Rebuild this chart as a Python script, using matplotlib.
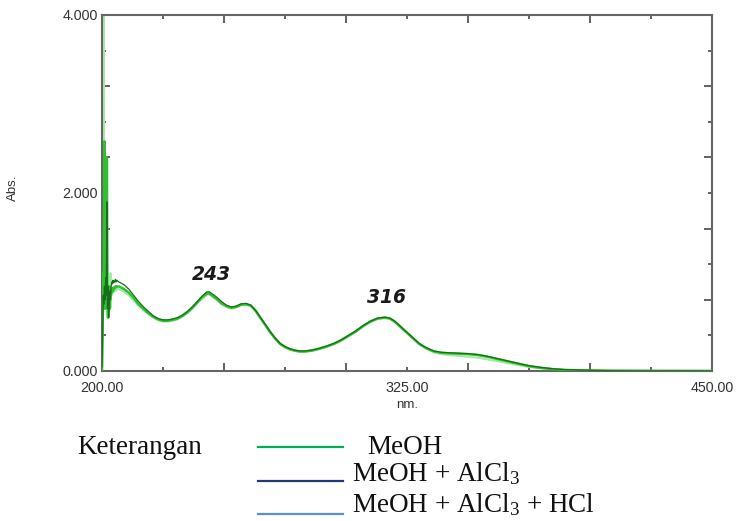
import matplotlib
matplotlib.use("Agg")
import matplotlib.pyplot as plt
from matplotlib.ticker import FixedLocator, NullFormatter, FuncFormatter

plt.rcParams["mathtext.fontset"] = "custom"
plt.rcParams["mathtext.rm"] = "Liberation Serif"
plt.rcParams["mathtext.it"] = "Liberation Serif:italic"

# ---- wavelength grid (nm) ----
wl_noise = [200.0, 200.25, 200.5, 200.75, 201.0, 201.25, 201.5, 201.75, 202.0, 202.25,
            202.5, 202.75, 203.0, 203.25, 203.5, 203.75, 204.0, 204.25, 204.5, 204.75,
            205.0, 205.25, 205.5, 205.75, 206.0]
wl_main = [207, 209, 211, 213, 215, 217, 219, 221, 223, 225, 227, 229, 231, 233, 235,
           237, 239, 241, 243, 244, 245, 247, 249, 251, 253, 255, 257, 259, 261, 263,
           265, 267, 269, 271, 273, 275, 277, 279, 281, 283, 286, 289, 292, 295, 298,
           301, 304, 307, 310, 313, 316, 318, 320, 322, 324, 326, 328, 330, 333, 336,
           339, 342, 346, 350, 354, 358, 362, 366, 370, 375, 380, 385, 390, 395, 400,
           410, 420, 430, 440, 450]
wavelength = wl_noise + wl_main

# ---- absorbance: MeOH ----
abs_meoh = [0.00, 0.45, 1.10, 0.90, 2.58, 0.70, 0.95, 0.80, 2.40, 0.75,
            0.60, 0.85, 0.95, 0.70, 0.85, 0.92, 0.88, 0.93, 0.90, 0.92,
            0.94, 0.93, 0.95, 0.94, 0.95,
            0.95, 0.92, 0.88, 0.82, 0.75, 0.70, 0.65, 0.61, 0.58, 0.565, 0.565, 0.575,
            0.59, 0.62, 0.66, 0.71, 0.77, 0.83, 0.87, 0.87, 0.85, 0.81, 0.76, 0.73,
            0.71, 0.72, 0.745, 0.75, 0.735, 0.675, 0.595, 0.515, 0.435, 0.365, 0.305,
            0.27, 0.245, 0.23, 0.22, 0.22, 0.23, 0.25, 0.275, 0.305, 0.345, 0.395,
            0.445, 0.505, 0.555, 0.59, 0.60, 0.59, 0.555, 0.505, 0.455, 0.405, 0.355,
            0.305, 0.255, 0.22, 0.205, 0.20, 0.195, 0.19, 0.18, 0.16, 0.135, 0.11,
            0.085, 0.055, 0.035, 0.02, 0.012, 0.008, 0.005, 0.003, 0.002, 0.001,
            0.001, 0.0]

# ---- absorbance: MeOH + AlCl3 ----
abs_alcl3 = [0.05, 0.40, 0.85, 0.75, 0.95, 0.80, 1.05, 0.85, 1.90, 0.70,
             0.95, 0.60, 0.75, 0.90, 0.80, 0.95, 1.00, 0.98, 1.02, 0.99,
             1.01, 1.00, 1.03, 1.00, 1.02,
             1.00, 0.97, 0.92, 0.85, 0.78, 0.72, 0.67, 0.62, 0.59, 0.575, 0.575, 0.585,
             0.60, 0.63, 0.67, 0.72, 0.78, 0.84, 0.89, 0.89, 0.87, 0.83, 0.78, 0.74,
             0.72, 0.73, 0.755, 0.76, 0.74, 0.68, 0.60, 0.52, 0.44, 0.37, 0.31,
             0.275, 0.25, 0.235, 0.225, 0.225, 0.235, 0.255, 0.28, 0.31, 0.35, 0.40,
             0.45, 0.51, 0.56, 0.595, 0.605, 0.595, 0.56, 0.51, 0.46, 0.41, 0.36,
             0.31, 0.26, 0.225, 0.21, 0.205, 0.20, 0.195, 0.185, 0.165, 0.14, 0.115,
             0.09, 0.06, 0.04, 0.025, 0.015, 0.012, 0.008, 0.003, 0.002, 0.001,
             0.001, 0.0]

# ---- absorbance: MeOH + AlCl3 + HCl ----
abs_hcl = [0.00, 0.60, 1.20, 4.00, 0.85, 1.10, 0.70, 0.80, 1.40, 0.60,
           0.75, 0.80, 0.85, 0.95, 1.10, 0.88, 0.85, 0.87, 0.88, 0.90,
           0.89, 0.90, 0.91, 0.90, 0.92,
           0.92, 0.89, 0.85, 0.79, 0.73, 0.68, 0.64, 0.60, 0.57, 0.555, 0.555, 0.565,
           0.58, 0.61, 0.65, 0.70, 0.76, 0.81, 0.855, 0.86, 0.84, 0.80, 0.75, 0.72,
           0.70, 0.715, 0.74, 0.745, 0.73, 0.67, 0.59, 0.51, 0.43, 0.36, 0.30,
           0.265, 0.24, 0.225, 0.215, 0.215, 0.225, 0.245, 0.27, 0.30, 0.34, 0.39,
           0.44, 0.50, 0.55, 0.585, 0.595, 0.585, 0.55, 0.50, 0.45, 0.40, 0.35,
           0.30, 0.25, 0.21, 0.19, 0.18, 0.17, 0.16, 0.15, 0.13, 0.11, 0.09,
           0.07, 0.045, 0.03, 0.018, 0.01, 0.006, 0.004, 0.002, 0.001, 0.001,
           0.0, 0.0]

peak_labels = ["243", "316"]
peak_positions = [(245.0, 1.08), (316.8, 0.83)]

series_names = ["MeOH", r"MeOH + AlCl$_3$", r"MeOH + AlCl$_3$ + HCl"]
legend_colors = ["#00b050", "#1f3b73", "#5b8fd6"]
curve_colors = ["#2fbf2f", "#176f17", "#a6e8a6"]

y_label_ticks = [0.0, 2.0, 4.0]
x_label_ticks = [200.0, 325.0, 450.0]

W, H = 738, 521
fig = plt.figure(figsize=(W / 100, H / 100), dpi=100)
ax = fig.add_axes([102 / W, 1 - 371 / H, (712 - 102) / W, (371 - 15) / H])

# curves: pale first, then bright green, dark on top
ax.plot(wavelength, abs_hcl, color=curve_colors[2], lw=1.5, zorder=2)
ax.plot(wavelength, abs_meoh, color=curve_colors[0], lw=1.8, zorder=3)
ax.plot(wavelength, abs_alcl3, color=curve_colors[1], lw=0.9, zorder=4)

ax.set_xlim(200, 450)
ax.set_ylim(0, 4)

for s in ax.spines.values():
    s.set_color("#666666")
    s.set_linewidth(1.5)

# long ticks as majors (unlabelled), short ticks as minors (some labelled)
ax.xaxis.set_major_locator(FixedLocator([250, 300, 350, 400]))
ax.xaxis.set_major_formatter(NullFormatter())
ax.xaxis.set_minor_locator(FixedLocator([200, 225, 275, 325, 375, 425, 450]))
ax.xaxis.set_minor_formatter(FuncFormatter(
    lambda v, p: f"{v:.2f}" if any(abs(v - t) < 1e-6 for t in x_label_ticks) else ""))
ax.yaxis.set_major_locator(FixedLocator([0.8, 1.6, 2.4, 3.2]))
ax.yaxis.set_major_formatter(NullFormatter())
ax.yaxis.set_minor_locator(FixedLocator([0.0, 0.4, 1.2, 2.0, 2.8, 3.6, 4.0]))
ax.yaxis.set_minor_formatter(FuncFormatter(
    lambda v, p: f"{v:.3f}" if any(abs(v - t) < 1e-6 for t in y_label_ticks) else ""))

ax.tick_params(which="both", direction="in", top=True, right=True,
               color="#555555", width=1.3, labelcolor="#333333",
               labelsize=10.3)
ax.tick_params(which="major", length=6)
ax.tick_params(axis="y", which="minor", length=3, pad=3)
ax.tick_params(axis="x", which="minor", length=3, pad=7)
for lab in ax.get_xticklabels(minor=True) + ax.get_yticklabels(minor=True):
    lab.set_fontfamily("Liberation Sans")

fig.text(13 / W, 1 - 188 / H, "Abs.", rotation=90, ha="center", va="center",
         fontsize=9.5, color="#333333", family="Liberation Sans")
fig.text(407 / W, 1 - 405 / H, "nm.", ha="center", va="center",
         fontsize=9.5, color="#333333", family="Liberation Sans")

for txt, (px, py) in zip(peak_labels, peak_positions):
    ax.text(px, py, txt, ha="center", va="center", fontsize=13.5,
            fontweight="bold", fontstyle="italic", color="#1a1a1a",
            family="DejaVu Sans")

# legend block below the plot
fig.text(77 / W, 1 - 447 / H, "Keterangan", ha="left", va="center",
         fontsize=19.5, family="Liberation Serif", color="#111111")
leg_rows = [(447, 367), (481, 352), (514, 352)]
leg_text_y = [447, 474, 505]
for (ly, tx), ty, name, col in zip(leg_rows, leg_text_y, series_names, legend_colors):
    fig.add_artist(plt.Line2D([258 / W, 343 / W], [1 - ly / H, 1 - ly / H],
                              color=col, lw=1.6, transform=fig.transFigure))
    fig.text(tx / W, 1 - ty / H, name, ha="left", va="center", fontsize=19.5,
             family="Liberation Serif", color="#111111")

fig.savefig("out.png", dpi=100)
